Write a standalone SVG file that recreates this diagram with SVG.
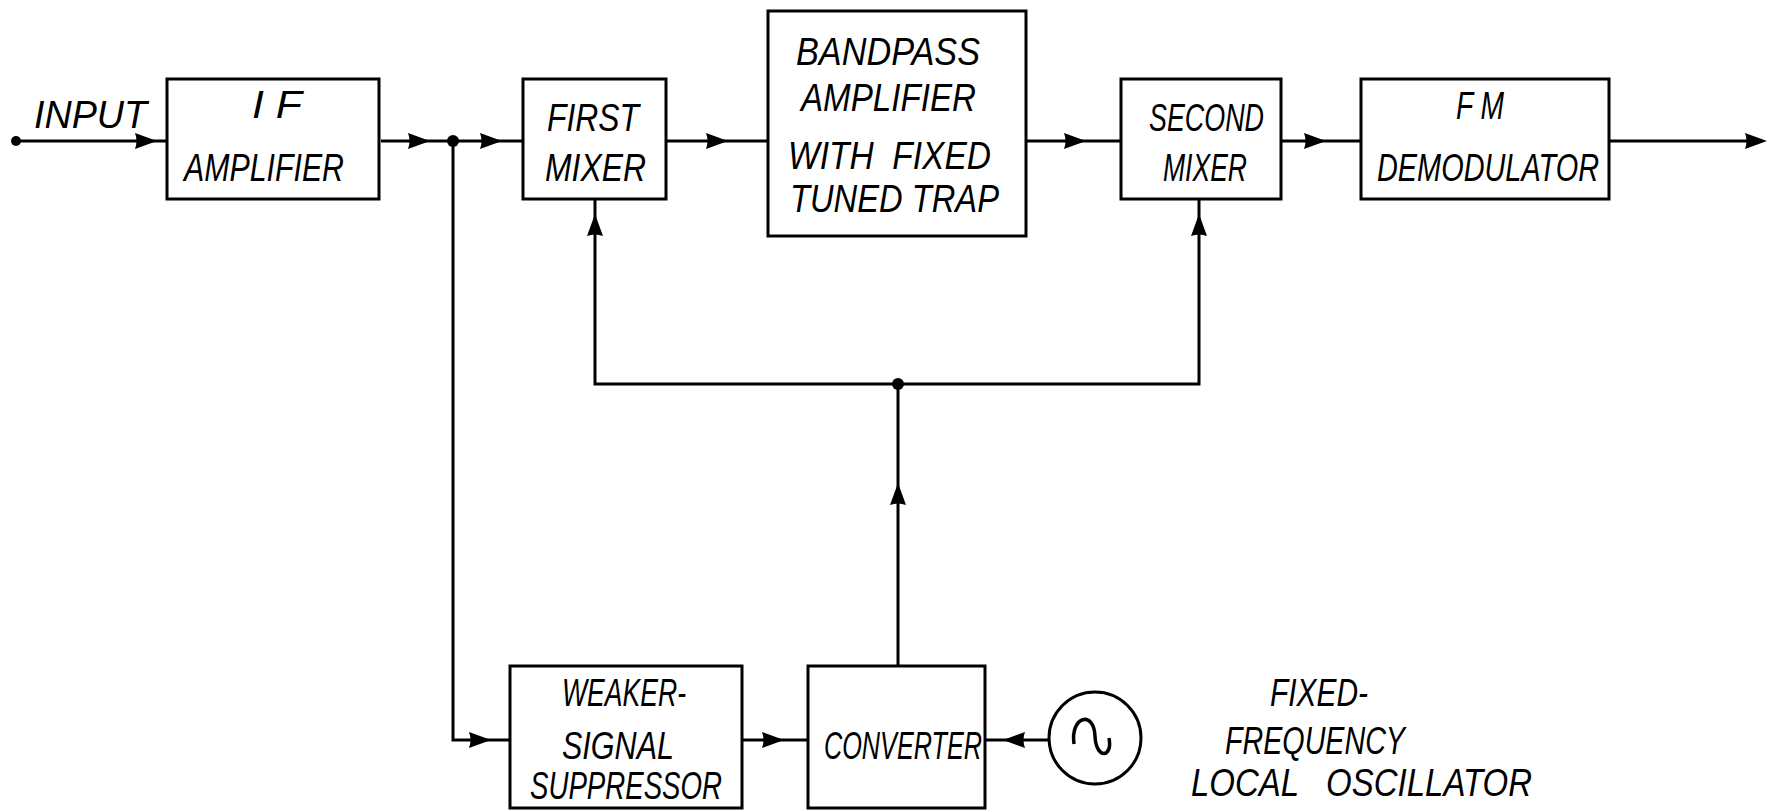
<svg xmlns="http://www.w3.org/2000/svg" xmlns:xlink="http://www.w3.org/1999/xlink" width="1770" height="812" viewBox="0 0 1770 812">
<style>
.box{fill:#fff;stroke:#000;stroke-width:3}
.ln{fill:none;stroke:#000;stroke-width:3}
.t{font-family:"Liberation Sans",Arial,sans-serif;font-style:italic;font-size:39px;fill:#000}
.dot{fill:#000}
</style>
<defs>
<path id="ah" d="M-22,-8 L0,0 L-22,8 Q-19,0 -22,-8 z" fill="#000"/>
</defs>
<rect width="1770" height="812" fill="#fff"/>
<g id="connectors">
<circle class="dot" cx="16" cy="141" r="5"/>
<path class="ln" d="M16,141 L167,141"/>
<use xlink:href="#ah" href="#ah" transform="translate(157,141)"/>
<path class="ln" d="M381,141 L523,141"/>
<use xlink:href="#ah" href="#ah" transform="translate(430,141)"/>
<use xlink:href="#ah" href="#ah" transform="translate(502,141)"/>
<circle class="dot" cx="453" cy="141" r="6"/>
<path class="ln" d="M453,141 L453,740 L510,740"/>
<use xlink:href="#ah" href="#ah" transform="translate(491,740)"/>
<path class="ln" d="M666,141 L768,141"/>
<use xlink:href="#ah" href="#ah" transform="translate(728,141)"/>
<path class="ln" d="M1026,141 L1121,141"/>
<use xlink:href="#ah" href="#ah" transform="translate(1086,141)"/>
<path class="ln" d="M1281,141 L1361,141"/>
<use xlink:href="#ah" href="#ah" transform="translate(1326,141)"/>
<path class="ln" d="M1609,141 L1750,141"/>
<use xlink:href="#ah" href="#ah" transform="translate(1767,141)"/>
<path class="ln" d="M595,199 L595,384 L1199,384 L1199,199"/>
<use xlink:href="#ah" href="#ah" transform="translate(595,214) rotate(-90)"/>
<use xlink:href="#ah" href="#ah" transform="translate(1199,214) rotate(-90)"/>
<circle class="dot" cx="898" cy="384" r="6"/>
<path class="ln" d="M898,666 L898,384"/>
<use xlink:href="#ah" href="#ah" transform="translate(898,483) rotate(-90)"/>
<path class="ln" d="M742,740 L808,740"/>
<use xlink:href="#ah" href="#ah" transform="translate(784,740)"/>
<path class="ln" d="M1049,740 L985,740"/>
<use xlink:href="#ah" href="#ah" transform="translate(1003,740) rotate(180)"/>
</g>
<g id="input-label"><text class="t" x="34" y="128" textLength="113" lengthAdjust="spacingAndGlyphs">INPUT</text></g>
<g id="if-amplifier">
<rect class="box" x="167" y="79" width="212" height="120"/>
<text class="t" x="252" y="118" textLength="50" lengthAdjust="spacingAndGlyphs">I F</text>
<text class="t" x="184" y="181" textLength="160" lengthAdjust="spacingAndGlyphs">AMPLIFIER</text>
</g>
<g id="first-mixer">
<rect class="box" x="523" y="79" width="143" height="120"/>
<text class="t" x="547" y="131" textLength="92" lengthAdjust="spacingAndGlyphs">FIRST</text>
<text class="t" x="545" y="181" textLength="101" lengthAdjust="spacingAndGlyphs">MIXER</text>
</g>
<g id="bandpass-amplifier">
<rect class="box" x="768" y="11" width="258" height="225"/>
<text class="t" x="796" y="65" textLength="184" lengthAdjust="spacingAndGlyphs">BANDPASS</text>
<text class="t" x="801" y="111" textLength="175" lengthAdjust="spacingAndGlyphs">AMPLIFIER</text>
<text class="t" x="788" y="169" xml:space="preserve" textLength="203" lengthAdjust="spacingAndGlyphs">WITH  FIXED</text>
<text class="t" x="790" y="212" textLength="209" lengthAdjust="spacingAndGlyphs">TUNED TRAP</text>
</g>
<g id="second-mixer">
<rect class="box" x="1121" y="79" width="160" height="120"/>
<text class="t" x="1149" y="131" textLength="115" lengthAdjust="spacingAndGlyphs">SECOND</text>
<text class="t" x="1163" y="181" textLength="84" lengthAdjust="spacingAndGlyphs">MIXER</text>
</g>
<g id="fm-demodulator">
<rect class="box" x="1361" y="79" width="248" height="120"/>
<text class="t" x="1456" y="119" textLength="48" lengthAdjust="spacingAndGlyphs">F M</text>
<text class="t" x="1377" y="181" textLength="222" lengthAdjust="spacingAndGlyphs">DEMODULATOR</text>
</g>
<g id="weaker-signal-suppressor">
<rect class="box" x="510" y="666" width="232" height="142"/>
<text class="t" x="562" y="706" textLength="124" lengthAdjust="spacingAndGlyphs">WEAKER-</text>
<text class="t" x="562" y="759" textLength="112" lengthAdjust="spacingAndGlyphs">SIGNAL</text>
<text class="t" x="530" y="799" textLength="192" lengthAdjust="spacingAndGlyphs">SUPPRESSOR</text>
</g>
<g id="converter">
<rect class="box" x="808" y="666" width="177" height="142"/>
<text class="t" x="824" y="759" textLength="158" lengthAdjust="spacingAndGlyphs">CONVERTER</text>
</g>
<g id="local-oscillator">
<circle class="box" cx="1095" cy="738" r="46"/>
<path class="ln" style="stroke-width:3.5" d="M1074,744 C1070,716 1094,710 1095,736 C1096,760 1113,758 1109,738"/>
<text class="t" x="1270" y="706" textLength="98" lengthAdjust="spacingAndGlyphs">FIXED-</text>
<text class="t" x="1225" y="754" textLength="180" lengthAdjust="spacingAndGlyphs">FREQUENCY</text>
<text class="t" x="1191" y="796" xml:space="preserve" textLength="341" lengthAdjust="spacingAndGlyphs">LOCAL   OSCILLATOR</text>
</g>
</svg>
